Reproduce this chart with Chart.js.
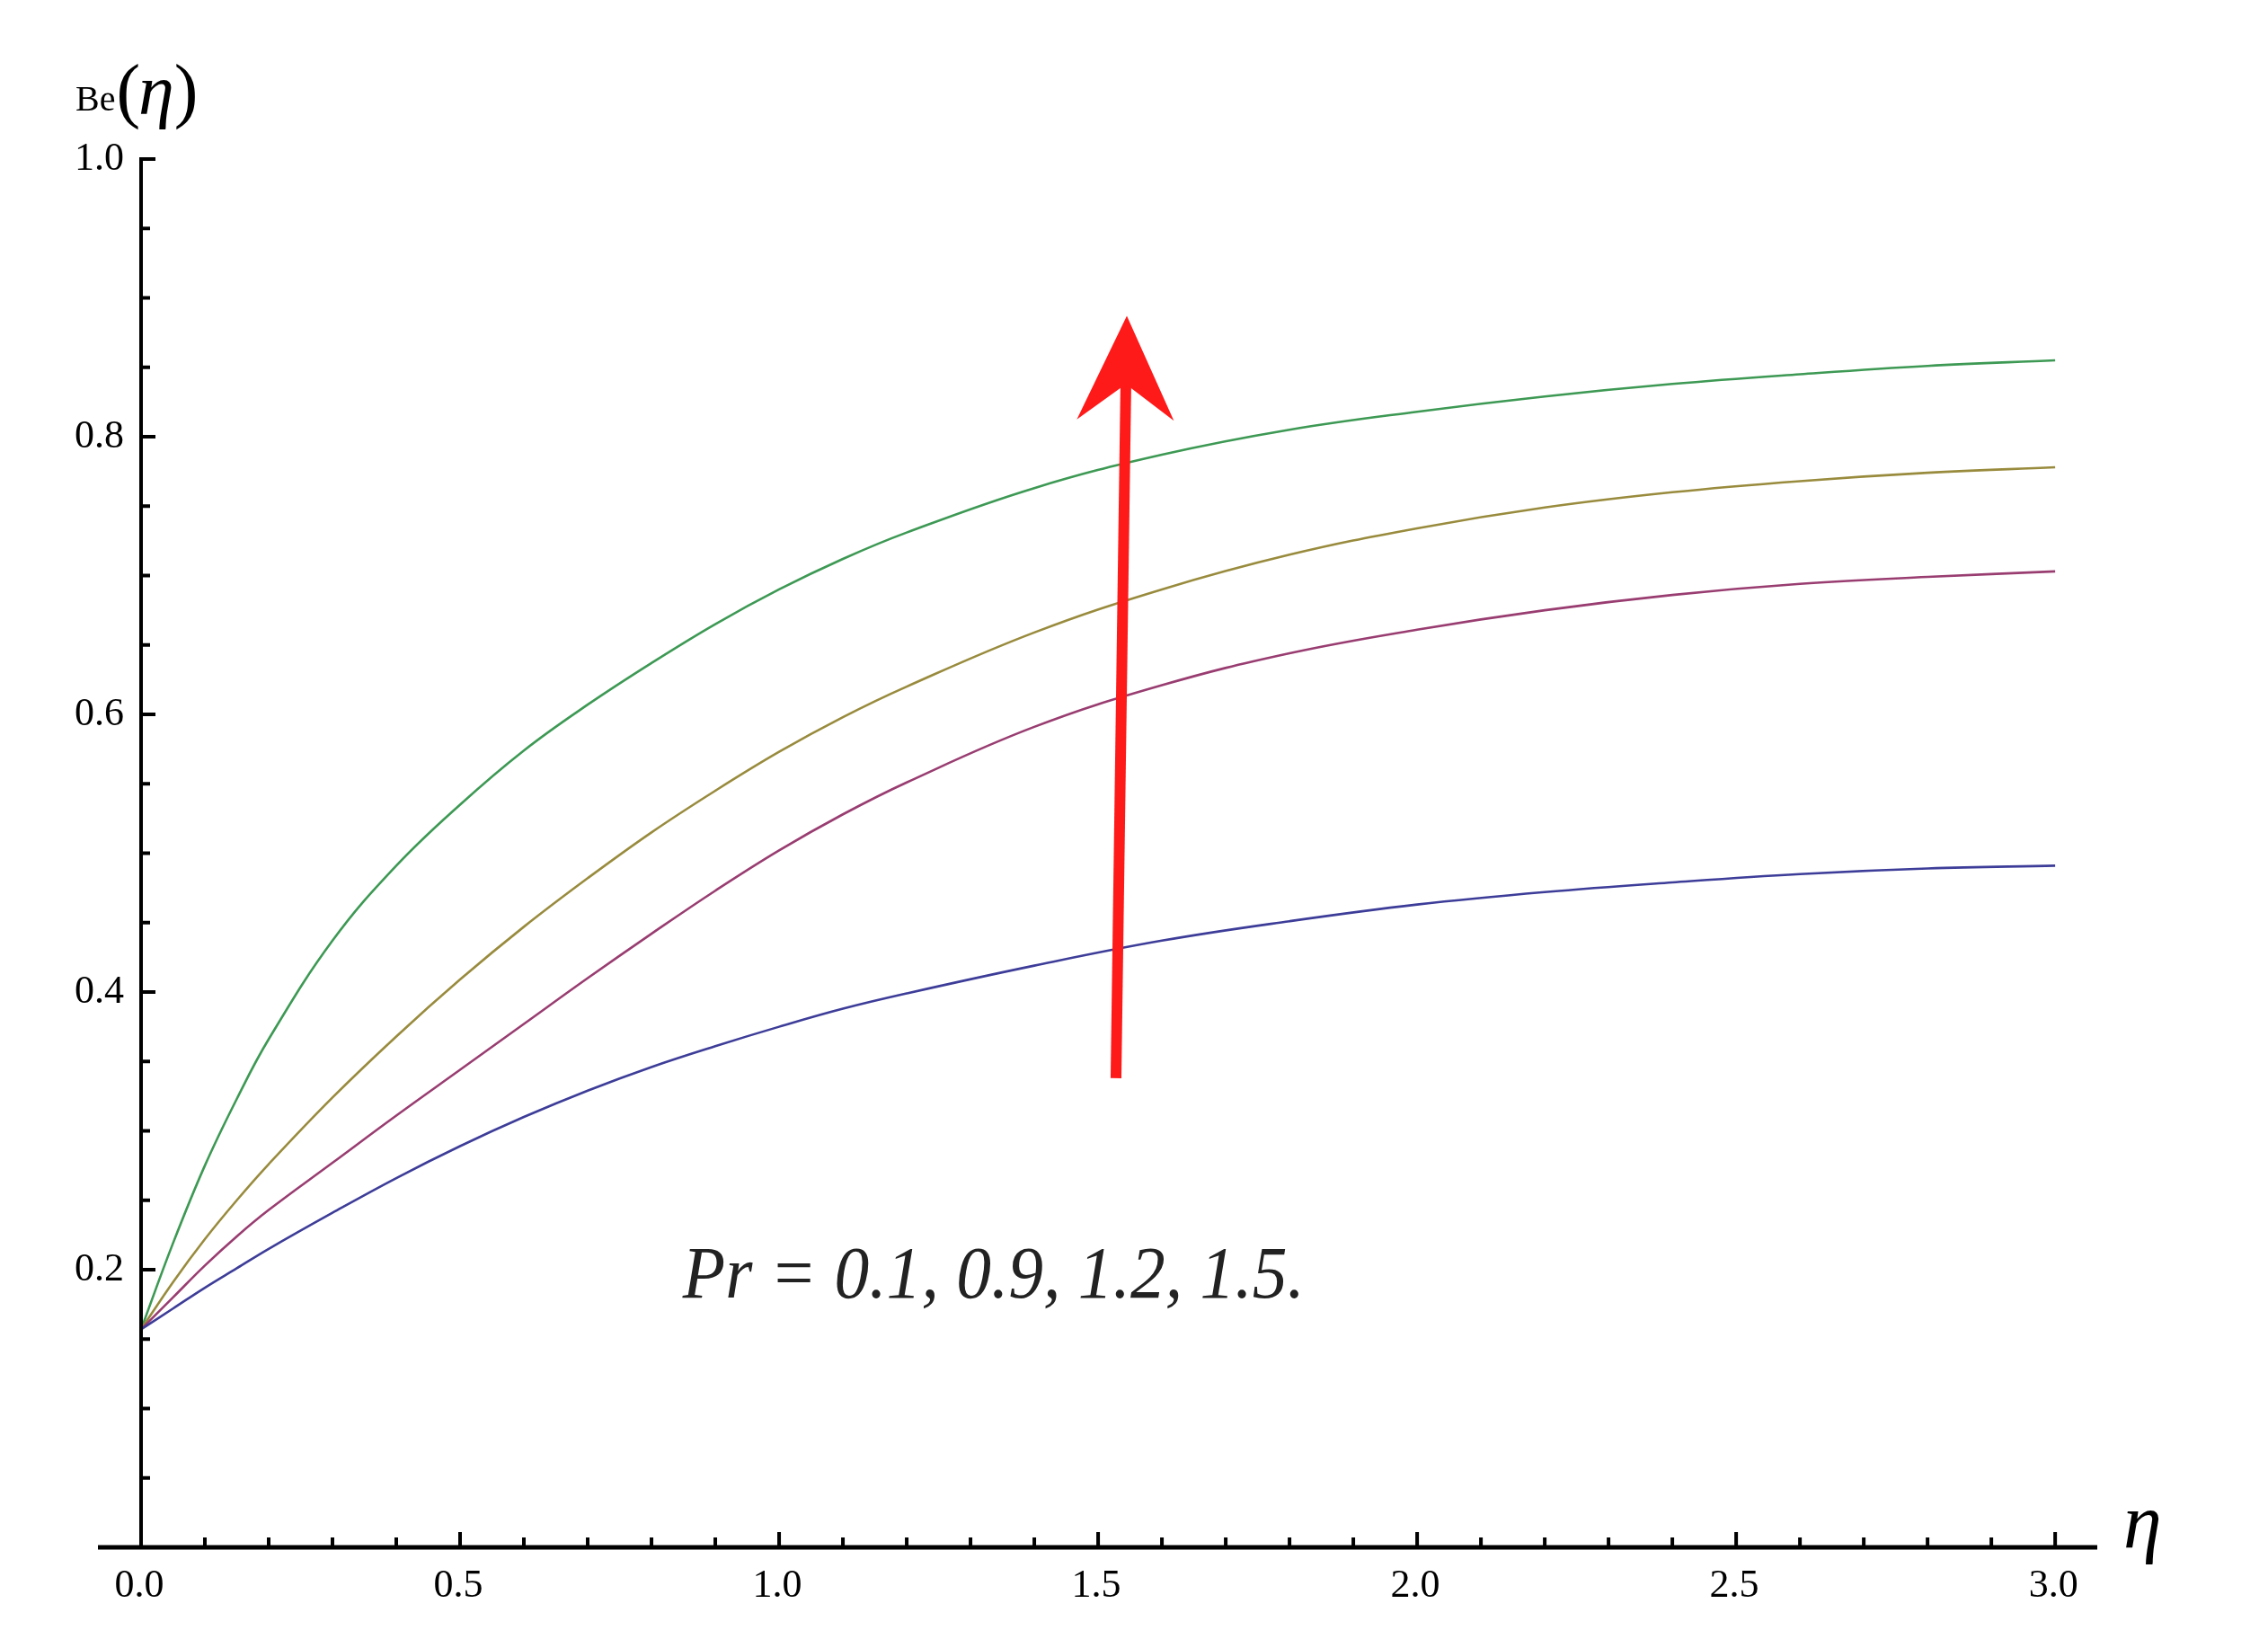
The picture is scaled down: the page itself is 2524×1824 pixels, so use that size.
<!DOCTYPE html>
<html>
<head>
<meta charset="utf-8">
<script src="https://cdn.jsdelivr.net/npm/chart.js@4.4.1/dist/chart.umd.min.js"></script>
<style>
  html, body { margin: 0; padding: 0; background: #fff; }
  #wrap { width: 2524px; height: 1824px; }
</style>
</head>
<body>
<div id="wrap"><canvas id="beChart" width="2524" height="1824"></canvas></div>
<script>
var etaValues = [0, 0.05, 0.1, 0.15, 0.2, 0.3, 0.4, 0.5, 0.6, 0.7, 0.8, 0.9, 1.0, 1.1, 1.2, 1.4, 1.6, 1.8, 2.0, 2.2, 2.4, 2.6, 2.8, 3.0];

// Be(eta) for each Pr
var bePr01 = [0.157, 0.172, 0.187, 0.201, 0.215, 0.241, 0.266, 0.289, 0.310, 0.329, 0.346, 0.361, 0.375, 0.388, 0.399, 0.419, 0.437, 0.451, 0.463, 0.472, 0.479, 0.485, 0.489, 0.491];
var bePr09 = [0.157, 0.180, 0.203, 0.224, 0.243, 0.277, 0.311, 0.344, 0.377, 0.410, 0.442, 0.473, 0.502, 0.528, 0.551, 0.591, 0.621, 0.644, 0.661, 0.675, 0.686, 0.694, 0.699, 0.703];
var bePr12 = [0.157, 0.191, 0.222, 0.250, 0.276, 0.324, 0.368, 0.409, 0.447, 0.482, 0.515, 0.545, 0.573, 0.598, 0.620, 0.659, 0.690, 0.715, 0.734, 0.749, 0.760, 0.768, 0.774, 0.778];
var bePr15 = [0.157, 0.219, 0.275, 0.323, 0.366, 0.437, 0.491, 0.535, 0.574, 0.607, 0.637, 0.665, 0.690, 0.712, 0.731, 0.763, 0.787, 0.805, 0.818, 0.829, 0.838, 0.845, 0.851, 0.855];

var prLabels = ['Pr = 0.1', 'Pr = 0.9', 'Pr = 1.2', 'Pr = 1.5'];
var lineColors = ['#3d3d99', '#993d71', '#998b3d', '#3d9954'];

// axis ticks
var xTicks = [0, 0.5, 1.0, 1.5, 2.0, 2.5, 3.0];
var xTickLabels = ['0.0', '0.5', '1.0', '1.5', '2.0', '2.5', '3.0'];
var yTicks = [0.2, 0.4, 0.6, 0.8, 1.0];
var yTickLabels = ['0.2', '0.4', '0.6', '0.8', '1.0'];
var xMinorStep = 0.1;
var yMinorStep = 0.05;

var annotationText = 'Pr = 0.1, 0.9, 1.2, 1.5.';
var annotationAt = [0.849, 0.180];
var arrowFrom = [1.528, 0.338];
var arrowTo = [1.545, 0.887];

var serif = '"Liberation Serif", "DejaVu Serif", serif';

function toPoints(ys) {
  return etaValues.map(function (e, i) { return { x: e, y: ys[i] }; });
}

var seriesValues = [bePr01, bePr09, bePr12, bePr15];
var datasets = seriesValues.map(function (ys, i) {
  return {
    label: prLabels[i],
    data: toPoints(ys),
    borderColor: lineColors[i],
    borderWidth: 2.6,
    pointRadius: 0,
    fill: false,
    tension: 0.4
  };
});

var mathAxes = {
  id: 'mathAxes',
  afterDatasetsDraw: function (chart) {
    var ctx = chart.ctx, area = chart.chartArea;
    var xs = chart.scales.x, ys = chart.scales.y;
    var x0 = xs.getPixelForValue(0), y0 = ys.getPixelForValue(0);
    ctx.save();
    ctx.strokeStyle = '#000';
    ctx.fillStyle = '#000';
    ctx.lineCap = 'butt';

    // y axis
    ctx.lineWidth = 4;
    ctx.beginPath();
    ctx.moveTo(x0, y0);
    ctx.lineTo(x0, ys.getPixelForValue(1.0) - 2);
    ctx.stroke();

    // x axis
    ctx.lineWidth = 5;
    ctx.beginPath();
    ctx.moveTo(area.left, y0);
    ctx.lineTo(area.right, y0);
    ctx.stroke();

    // y ticks
    ctx.lineWidth = 4;
    var i, v, p;
    for (i = 1; i * yMinorStep <= 1.0001; i++) {
      v = i * yMinorStep;
      p = ys.getPixelForValue(v);
      var major = (i % 4 === 0);
      ctx.beginPath();
      ctx.moveTo(x0 + 2, p);
      ctx.lineTo(x0 + 2 + (major ? 14 : 8), p);
      ctx.stroke();
    }
    // x ticks
    for (i = 1; i * xMinorStep <= 3.0001; i++) {
      v = i * xMinorStep;
      p = xs.getPixelForValue(v);
      var majorX = (i % 5 === 0);
      ctx.beginPath();
      ctx.moveTo(p, y0 - 2);
      ctx.lineTo(p, y0 - 2 - (majorX ? 15 : 9));
      ctx.stroke();
    }

    // tick labels
    ctx.font = '44px ' + serif;
    ctx.textBaseline = 'alphabetic';
    ctx.textAlign = 'right';
    yTicks.forEach(function (t, k) {
      ctx.fillText(yTickLabels[k], x0 - 19, ys.getPixelForValue(t) + 12);
    });
    ctx.textAlign = 'center';
    xTicks.forEach(function (t, k) {
      ctx.fillText(xTickLabels[k], xs.getPixelForValue(t) - 2, y0 + 55);
    });

    // y axis title Be(eta)
    ctx.textAlign = 'left';
    var tx = x0 - 73, tb = ys.getPixelForValue(1.0) - 50;
    ctx.font = '40px ' + serif;
    ctx.fillText('Be', tx, tb - 4);
    tx += ctx.measureText('Be').width + 1;
    ctx.font = '80px ' + serif;
    ctx.fillText('(', tx, tb);
    tx += ctx.measureText('(').width - 2;
    ctx.font = 'italic 80px ' + serif;
    ctx.fillText('\u03B7', tx, tb);
    tx += ctx.measureText('\u03B7').width;
    ctx.font = '80px ' + serif;
    ctx.fillText(')', tx, tb);

    // x axis title eta
    ctx.font = 'italic 86px ' + serif;
    ctx.fillText('\u03B7', area.right + 29, y0);

    ctx.restore();
  }
};

var arrowAndText = {
  id: 'arrowAndText',
  afterDraw: function (chart) {
    var ctx = chart.ctx;
    var xs = chart.scales.x, ys = chart.scales.y;
    var bx = xs.getPixelForValue(arrowFrom[0]), by = ys.getPixelForValue(arrowFrom[1]);
    var tx = xs.getPixelForValue(arrowTo[0]), ty = ys.getPixelForValue(arrowTo[1]);
    var dx = tx - bx, dy = ty - by, len = Math.sqrt(dx * dx + dy * dy);
    var ux = dx / len, uy = dy / len, nx = -uy, ny = ux;
    ctx.save();
    ctx.strokeStyle = '#ff1a1a';
    ctx.fillStyle = '#ff1a1a';
    ctx.lineWidth = 12;
    ctx.lineCap = 'butt';
    ctx.beginPath();
    ctx.moveTo(bx, by);
    ctx.lineTo(tx - ux * 70, ty - uy * 70);
    ctx.stroke();
    ctx.beginPath();
    ctx.moveTo(tx, ty);
    ctx.lineTo(tx - ux * 116 + nx * 54, ty - uy * 116 + ny * 54);
    ctx.lineTo(tx - ux * 76, ty - uy * 76);
    ctx.lineTo(tx - ux * 116 - nx * 54, ty - uy * 116 - ny * 54);
    ctx.closePath();
    ctx.fill();

    // annotation text
    var ax = xs.getPixelForValue(annotationAt[0]), ay = ys.getPixelForValue(annotationAt[1]);
    ctx.font = 'italic 82px ' + serif;
    ctx.fillStyle = '#222';
    ctx.textAlign = 'left';
    ctx.textBaseline = 'alphabetic';
    var w = ctx.measureText(annotationText).width;
    ctx.translate(ax, ay);
    ctx.scale(692 / w, 1);
    ctx.fillText(annotationText, 0, 0);
    ctx.restore();
  }
};

var beChart = new Chart(document.getElementById('beChart'), {
  type: 'line',
  data: { datasets: datasets },
  options: {
    responsive: false,
    devicePixelRatio: 1,
    animation: false,
    layout: { padding: { left: 109, right: 190, top: 177, bottom: 102 } },
    plugins: { legend: { display: false }, tooltip: { enabled: false } },
    scales: {
      x: { type: 'linear', min: -0.0676, max: 3.066, display: false },
      y: { type: 'linear', min: 0, max: 1, display: false }
    }
  },
  plugins: [mathAxes, arrowAndText]
});
</script>
</body>
</html>
